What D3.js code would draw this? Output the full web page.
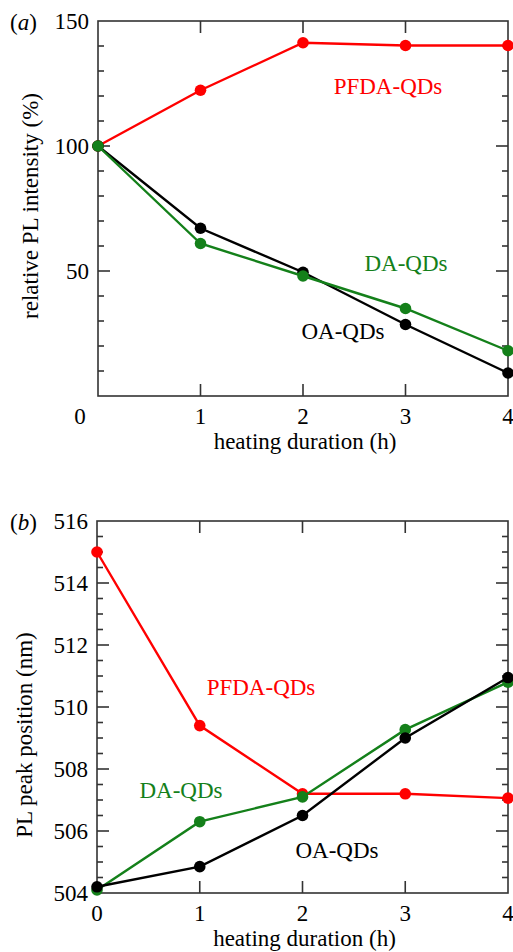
<!DOCTYPE html>
<html>
<head>
<meta charset="utf-8">
<script src="https://cdn.jsdelivr.net/npm/d3@7"></script>
<style>
  body { margin: 0; background: #fff; }
  svg { display: block; }
</style>
</head>
<body>
<div id="chart"></div>
<script>
// data
var hours = [0, 1, 2, 3, 4];

// (a) relative PL intensity (%)
var intPFDA = [100, 122.3, 141.3, 140.2, 140.2];
var intOA   = [100, 67.1, 49.5, 28.6, 9.2];
var intDA   = [100, 61.0, 48.0, 35.0, 18.1];

// (b) PL peak position (nm)
var peakPFDA = [515.0, 509.4, 507.2, 507.2, 507.06];
var peakOA   = [504.2, 504.85, 506.5, 509.0, 510.95];
var peakDA   = [504.1, 506.3, 507.1, 509.27, 510.8];

var xTicks = [1, 2, 3];
var yTicksA = [50, 100, 150];
var yTicksB = [504, 506, 508, 510, 512, 514, 516];

var red = "#ff0000", green = "#14801a", black = "#000000";
var fs = 23;

var svg = d3.select("#chart").append("svg")
    .attr("width", 513)
    .attr("height", 952);

// every label goes through here so the serif face sticks
function label(sel) {
    return sel.append("text")
        .attr("font-family", "'Liberation Serif'")
        .attr("font-size", fs);
}

function panel(opt) {
    var g = svg.append("g");
    var x = d3.scaleLinear().domain([0, 4]).range([opt.left, opt.right]);
    var y = d3.scaleLinear().domain(opt.ydomain).range([opt.bottom, opt.top]);

    // frame
    g.append("rect")
        .attr("x", opt.left).attr("y", opt.top)
        .attr("width", opt.right - opt.left)
        .attr("height", opt.bottom - opt.top)
        .attr("fill", "none")
        .attr("stroke", "#333")
        .attr("stroke-width", 1.6);

    // y ticks, inward on both sides
    g.selectAll("line.ymin").data(opt.minor).enter().append("line")
        .attr("x1", opt.left).attr("x2", function(d) { return opt.left + (opt.isMajor(d) ? 12 : 6); })
        .attr("y1", y).attr("y2", y)
        .attr("stroke", "#333").attr("stroke-width", 1.6);
    g.selectAll("line.ymin2").data(opt.minor).enter().append("line")
        .attr("x1", opt.right).attr("x2", function(d) { return opt.right - (opt.isMajor(d) ? 12 : 6); })
        .attr("y1", y).attr("y2", y)
        .attr("stroke", "#333").attr("stroke-width", 1.6);

    // x ticks top and bottom
    g.selectAll("line.xb").data(xTicks).enter().append("line")
        .attr("x1", x).attr("x2", x)
        .attr("y1", opt.bottom).attr("y2", opt.bottom - 12)
        .attr("stroke", "#333").attr("stroke-width", 1.6);
    g.selectAll("line.xt").data(xTicks).enter().append("line")
        .attr("x1", x).attr("x2", x)
        .attr("y1", opt.top).attr("y2", opt.top + 12)
        .attr("stroke", "#333").attr("stroke-width", 1.6);

    // tick labels
    opt.ylabels.forEach(function(d) {
        label(g).attr("x", opt.left - 9)
            .attr("y", y(d) + 8)
            .attr("text-anchor", "end")
            .text(d);
    });
    opt.xlabels.forEach(function(d) {
        label(g).attr("x", x(d))
            .attr("y", opt.bottom + 28)
            .attr("text-anchor", "middle")
            .text(d);
    });

    label(g)
        .attr("x", (opt.left + opt.right) / 2 + 2)
        .attr("y", opt.bottom + 53)
        .attr("text-anchor", "middle")
        .text("heating duration (h)");

    label(g)
        .attr("transform", "translate(" + opt.ylabX + "," + opt.ylabY + ") rotate(-90)")
        .attr("text-anchor", "middle")
        .text(opt.ylabel);

    label(g)
        .attr("x", 10).attr("y", opt.top + 9)
        .html("(<tspan font-style='italic'>" + opt.tag + "</tspan>)");

    var line = d3.line()
        .x(function(d) { return x(d[0]); })
        .y(function(d) { return y(d[1]); });

    opt.series.forEach(function(s) {
        var pts = hours.map(function(h, i) { return [h, s.values[i]]; });
        g.append("path")
            .attr("d", line(pts))
            .attr("fill", "none")
            .attr("stroke", s.color)
            .attr("stroke-width", 2.4);
        g.selectAll(null).data(pts).enter().append("circle")
            .attr("cx", function(d) { return x(d[0]); })
            .attr("cy", function(d) { return y(d[1]); })
            .attr("r", 5.8)
            .attr("fill", s.color);
        label(g)
            .attr("x", s.lx).attr("y", s.ly)
            .attr("text-anchor", "middle")
            .attr("fill", s.color)
            .text(s.name);
    });
    return {x: x, y: y};
}

var pa = panel({
    left: 98, right: 508, top: 21, bottom: 396,
    ydomain: [0, 150],
    minor: d3.range(10, 150, 10),
    isMajor: function(d) { return d % 50 === 0; },
    ylabels: yTicksA,
    xlabels: [1, 2, 3, 4],
    ylabel: "relative PL intensity (%)",
    ylabX: 38, ylabY: 206,
    tag: "a",
    series: [
        {name: "PFDA-QDs", values: intPFDA, color: red, lx: 388, ly: 94},
        {name: "OA-QDs", values: intOA, color: black, lx: 343, ly: 339},
        {name: "DA-QDs", values: intDA, color: green, lx: 406, ly: 271}
    ]
});
// shared origin label of panel (a)
label(svg)
    .attr("x", pa.x(0) - 18).attr("y", 424)
    .attr("text-anchor", "middle")
    .text("0");

panel({
    left: 97, right: 508, top: 521, bottom: 893,
    ydomain: [504, 516],
    minor: d3.range(504.5, 516, 0.5),
    isMajor: function(d) { return d % 2 === 0; },
    ylabels: yTicksB,
    xlabels: [0, 1, 2, 3, 4],
    ylabel: "PL peak position (nm)",
    ylabX: 32, ylabY: 735,
    tag: "b",
    series: [
        {name: "PFDA-QDs", values: peakPFDA, color: red, lx: 261, ly: 695},
        {name: "DA-QDs", values: peakDA, color: green, lx: 181, ly: 798},
        {name: "OA-QDs", values: peakOA, color: black, lx: 337, ly: 858}
    ]
});
</script>
</body>
</html>
